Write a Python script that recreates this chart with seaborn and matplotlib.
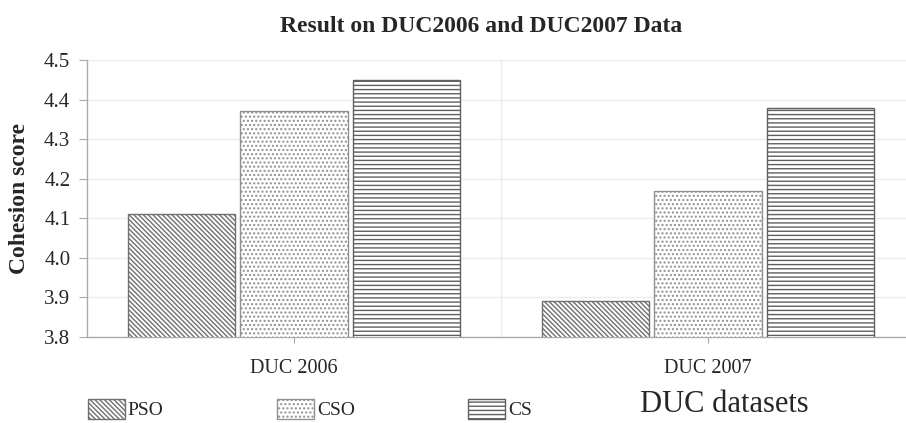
import matplotlib
matplotlib.use("Agg")
import matplotlib.pyplot as plt
import seaborn as sns
import pandas as pd

categories = ["DUC 2006", "DUC 2007"]
methods = ["PSO", "CSO", "CS"]
pso = [4.11, 3.89]
cso = [4.37, 4.17]
cs = [4.45, 4.38]
yticks = [3.8, 3.9, 4.0, 4.1, 4.2, 4.3, 4.4, 4.5]

rows = []
for m, vals in zip(methods, [pso, cso, cs]):
    for c, v in zip(categories, vals):
        rows.append({"dataset": c, "method": m, "score": v})
df = pd.DataFrame(rows)

sns.set_style("white")
plt.rcParams["font.family"] = ["Liberation Serif", "DejaVu Serif"]
plt.rcParams["hatch.linewidth"] = 1.0

fig = plt.figure(figsize=(9.06, 4.23), dpi=100)
ax = fig.add_axes([0.096, 0.2033, 0.904, 0.6547])

sns.barplot(data=df, x="dataset", y="score", hue="method", hue_order=methods,
            order=categories, width=0.816, gap=0.045, ax=ax,
            palette=["white", "white", "white"], edgecolor="#7a7a7a",
            linewidth=1.0, legend=True, zorder=3)

hatches = {"PSO": "\\\\\\\\\\\\\\", "CSO": "....", "CS": "----"}
hcolors = {"PSO": "#707070", "CSO": "#909090", "CS": "#606060"}
for cont, m in zip(ax.containers, methods):
    for bar in cont:
        bar.set_hatch(hatches[m])
        bar.set_edgecolor(hcolors[m])
leg_handles, leg_labels = ax.get_legend_handles_labels()
for h, m in zip(leg_handles, methods):
    h.set_hatch(hatches[m])
    h.set_edgecolor(hcolors[m])
ax.get_legend().remove()

ax.set_ylim(3.8, 4.5)
ax.set_yticks(yticks)
ax.set_yticklabels([f"{t:.1f}" for t in yticks], fontsize=15)
ax.set_xlim(-0.5, 1.478)
ax.tick_params(axis="x", labelsize=14.5, length=4, color="#aaaaaa", pad=12, bottom=True)
ax.tick_params(axis="y", length=6, color="#aaaaaa", pad=6, left=True)

for y in yticks[1:]:
    ax.axhline(y, color="#ececec", lw=1, zorder=0)
ax.axvline(0.5, color="#ececec", lw=1, zorder=0)

for s in ["top", "right"]:
    ax.spines[s].set_visible(False)
for s in ["left", "bottom"]:
    ax.spines[s].set_color("#aaaaaa")
    ax.spines[s].set_linewidth(1)

ax.set_xlabel("")
ax.set_ylabel("Cohesion score", fontsize=17, fontweight="bold", labelpad=10)
ax.set_title("Result on DUC2006 and DUC2007 Data", fontsize=17, fontweight="bold", pad=20, x=0.481)

fig.text(0.80, 0.043, "DUC datasets", fontsize=22, ha="center", va="center")

legend_x = [88, 277, 468]
for h, lab, lx in zip(leg_handles, leg_labels, legend_x):
    fig.legend([h], [lab], loc="center left", bbox_to_anchor=(lx / 906, 14 / 423),
               frameon=False, fontsize=14, handlelength=1.9, handleheight=1.25,
               handletextpad=0.15, borderpad=0, borderaxespad=0)

fig.savefig("out.png", dpi=100)
